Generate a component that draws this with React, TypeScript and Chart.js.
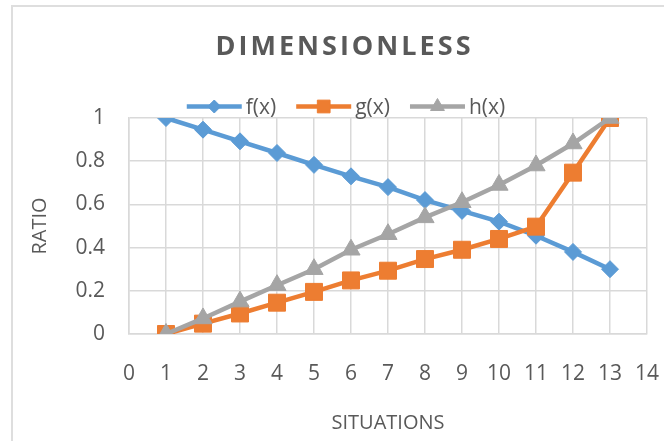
import React, { useEffect, useRef } from "react";
import { Chart, registerables } from "chart.js";
import { drawPoint } from "chart.js/helpers";

Chart.register(...registerables);

const TITLE = "DIMENSIONLESS";
const X_TITLE = "SITUATIONS";
const Y_TITLE = "RATIO";

const situations = [1, 2, 3, 4, 5, 6, 7, 8, 9, 10, 11, 12, 13];
const seriesNames = ["f(x)", "g(x)", "h(x)"];
const fValues = [1, 0.946, 0.892, 0.838, 0.783, 0.73, 0.68, 0.62, 0.57, 0.52, 0.455, 0.38, 0.3];
const gValues = [0, 0.048, 0.095, 0.145, 0.195, 0.248, 0.293, 0.347, 0.39, 0.44, 0.497, 0.747, 1];
const hValues = [0, 0.072, 0.15, 0.226, 0.3, 0.39, 0.462, 0.54, 0.61, 0.69, 0.78, 0.882, 1];

const seriesColors = ["#5B9BD5", "#ED7D31", "#A5A5A5"];
const seriesMarkers = ["rectRot", "rect", "triangle"];
const markerRadius = [8.5, 12, 10.5];
const legendMarkerRadius = [6.5, 9, 8];

const FONT = "'Open Sans', sans-serif";
const TEXT = "#595959";
const GRID = "#D9D9D9";

const headerPlugin = {
  id: "header",
  afterDraw(chart: any) {
    const ctx = chart.ctx as CanvasRenderingContext2D;
    ctx.save();
    // Title
    ctx.font = `bold 27px ${FONT}`;
    ctx.fillStyle = TEXT;
    ctx.textBaseline = "alphabetic";
    ctx.textAlign = "left";
    const plain = ctx.measureText(TITLE).width;
    const targetW = 255;
    const spacing = Math.max(0, (targetW - plain) / (TITLE.length - 1));
    (ctx as any).letterSpacing = `${spacing}px`;
    ctx.fillText(TITLE, 343 - targetW / 2, 55);
    (ctx as any).letterSpacing = "0px";

    // Legend
    ctx.font = `21px ${FONT}`;
    const symW = 55;
    const gapText = 4;
    const gapItem = 20;
    const widths = seriesNames.map((n) => ctx.measureText(n).width);
    const total = widths.reduce((a, b) => a + b, 0) + seriesNames.length * (symW + gapText) + gapItem * (seriesNames.length - 1);
    let x = 346 - total / 2;
    const ly = 106.5;
    seriesNames.forEach((name, i) => {
      ctx.strokeStyle = seriesColors[i];
      ctx.lineWidth = 4.5;
      ctx.lineCap = "butt";
      ctx.beginPath();
      ctx.moveTo(x, ly);
      ctx.lineTo(x + symW, ly);
      ctx.stroke();
      ctx.fillStyle = seriesColors[i];
      ctx.lineWidth = 1;
      drawPoint(ctx, { pointStyle: seriesMarkers[i] as any, radius: legendMarkerRadius[i], rotation: 0, borderWidth: 1 }, x + symW / 2, ly);
      ctx.fillStyle = TEXT;
      ctx.fillText(name, x + symW + gapText, 114);
      x += symW + gapText + widths[i] + gapItem;
    });
    ctx.restore();
  },
};

const formatTick = (v: number | string) => String(Number(Number(v).toFixed(2)));

export default function App() {
  const canvasRef = useRef<HTMLCanvasElement | null>(null);

  useEffect(() => {
    if (!canvasRef.current) return;
    const allValues = [fValues, gValues, hValues];
    const datasets = allValues.map((vals, i) => ({
      label: seriesNames[i],
      data: situations.map((s, j) => ({ x: s, y: vals[j] })),
      borderColor: seriesColors[i],
      backgroundColor: seriesColors[i],
      borderWidth: 4.5,
      pointStyle: seriesMarkers[i],
      pointRadius: markerRadius[i],
      pointBorderWidth: 1,
      pointBackgroundColor: seriesColors[i],
      pointBorderColor: seriesColors[i],
      tension: 0,
      order: 3 - i,
    }));

    const chart = new Chart(canvasRef.current, {
      type: "line",
      data: { datasets: datasets as any },
      plugins: [headerPlugin],
      options: {
        responsive: false,
        animation: false,
        devicePixelRatio: 1,
        layout: { padding: { top: 118, left: 0, right: 17, bottom: 0 } },
        plugins: {
          legend: { display: false },
          title: { display: false },
          tooltip: { enabled: false },
        },
        scales: {
          x: {
            type: "linear",
            min: 0,
            max: 14,
            ticks: {
              stepSize: 1,
              color: TEXT,
              font: { family: FONT, size: 21 },
              padding: 27,
              maxRotation: 0,
              autoSkip: false,
              callback: (v: any) => formatTick(v),
            },
            grid: { color: GRID, lineWidth: 1.5, drawTicks: false },
            border: { display: true, color: GRID, width: 1.5 },
            title: {
              display: true,
              text: X_TITLE,
              color: TEXT,
              font: { family: FONT, size: 20 },
              padding: { top: 0, bottom: 6 },
            },
            afterFit: (s: any) => {
              s.height = 107;
              s.paddingLeft = 0;
              s.paddingRight = 0;
            },
          },
          y: {
            type: "linear",
            min: 0,
            max: 1,
            ticks: {
              stepSize: 0.2,
              color: TEXT,
              font: { family: FONT, size: 21 },
              padding: 24,
              callback: (v: any) => formatTick(v),
            },
            grid: { color: GRID, lineWidth: 1.5, drawTicks: false },
            border: { display: true, color: GRID, width: 1.5 },
            title: {
              display: true,
              text: Y_TITLE,
              color: TEXT,
              font: { family: FONT, size: 20 },
              padding: { top: 28, bottom: 0 },
            },
            afterFit: (s: any) => {
              s.width = 129;
              s.paddingTop = 0;
              s.paddingBottom = 0;
            },
          },
        },
      },
    });
    return () => chart.destroy();
  }, []);

  return (
    <div
      style={{
        position: "fixed",
        left: 0,
        top: 0,
        width: 664,
        height: 441,
        background: "#ffffff",
        overflow: "hidden",
      }}
    >
      <div
        style={{
          position: "absolute",
          left: 11,
          top: 5,
          width: 700,
          height: 500,
          border: "2px solid #DEDEDE",
          boxSizing: "border-box",
        }}
      />
      <canvas
        ref={canvasRef}
        width={664}
        height={441}
        style={{ position: "absolute", left: 0, top: 0, width: 664, height: 441 }}
      />
    </div>
  );
}
